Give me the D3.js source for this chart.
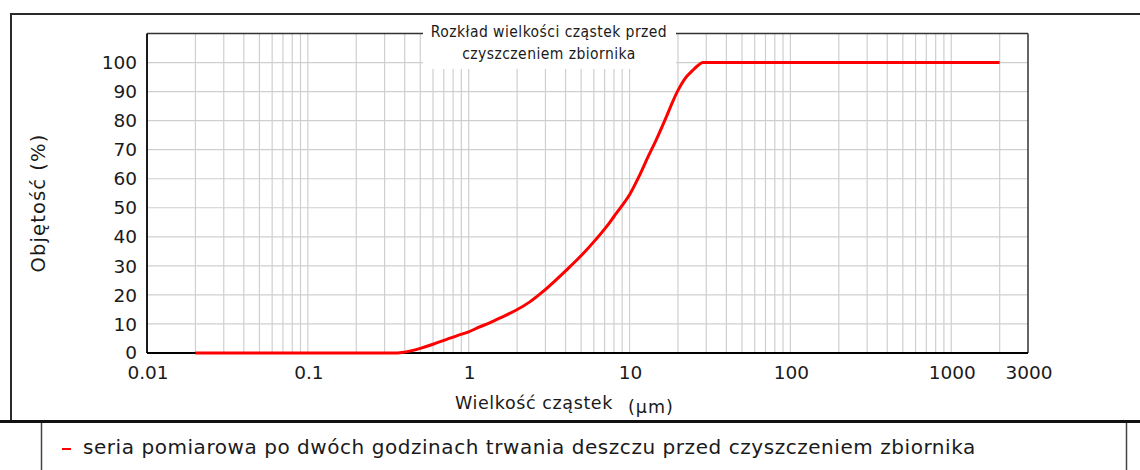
<!DOCTYPE html>
<html>
<head>
<meta charset="utf-8">
<script src="https://cdn.jsdelivr.net/npm/d3@7"></script>
<style>
  body { margin: 0; background: #fff; }
  text { font-family: "DejaVu Sans", sans-serif; fill: #1a1a1a; }
</style>
</head>
<body>
<div id="chart"></div>
<script>
// particle size (um) and cumulative volume (%)
const sizes = [0.02, 0.05, 0.1, 0.2, 0.3, 0.36, 0.4, 0.45, 0.5, 0.6, 0.73, 0.85, 1.0, 1.15, 1.35, 1.6, 1.98, 2.4, 2.89, 3.4, 4.04, 4.7, 5.38, 6.2, 7.17, 8.0, 9.0, 10.0, 11.5, 13.0, 14.6, 16.9, 18.5, 20.0, 22.0, 24.7, 26.5, 28.5, 50, 200, 1000, 2000];
const volumes = [0, 0, 0, 0, 0, 0, 0.3, 0.9, 1.6, 3.0, 4.7, 6.0, 7.3, 8.8, 10.4, 12.3, 14.8, 17.6, 21.1, 24.6, 28.5, 32.0, 35.4, 39.2, 43.4, 47.0, 50.8, 54.5, 61.0, 67.4, 73.2, 81.2, 86.4, 90.4, 94.3, 97.3, 98.9, 100, 100, 100, 100, 100];

const yTicks = [0, 10, 20, 30, 40, 50, 60, 70, 80, 90, 100];
const xTickValues = [0.01, 0.1, 1, 10, 100, 1000, 3000];
const xTickLabels = ['0.01', '0.1', '1', '10', '100', '1000', '3000'];

const titleLines = ['Rozkład wielkości cząstek przed', 'czyszczeniem zbiornika'];
const xTitle = 'Wielkość cząstek';
const xUnit = '(µm)';
const yTitle = 'Objętość (%)';
const seriesName = 'seria pomiarowa po dwóch godzinach trwania deszczu przed czyszczeniem zbiornika';

const width = 1140;
const height = 470;
const plot = { left: 147, right: 1028, top: 33.5, bottom: 353 };

const svg = d3.select('#chart')
    .append('svg')
    .attr('width', width)
    .attr('height', height);

const x = d3.scaleLog()
    .domain([0.01, 3000])
    .range([plot.left, plot.right]);

const y = d3.scaleLinear()
    .domain([0, 110])
    .range([plot.bottom, plot.top]);

// outer frame and legend frame
svg.append('rect')
    .attr('x', 11).attr('y', 14)
    .attr('width', 1160).attr('height', 407)
    .attr('fill', 'none').attr('stroke', '#2a2a2a').attr('stroke-width', 2);

svg.append('rect')
    .attr('x', 41.5).attr('y', 421.5)
    .attr('width', 1085).attr('height', 100)
    .attr('fill', 'none').attr('stroke', '#444').attr('stroke-width', 1.5);

svg.append('line')
    .attr('x1', 0).attr('x2', width)
    .attr('y1', 421.5).attr('y2', 421.5)
    .attr('stroke', '#111').attr('stroke-width', 3);

// grid
const grid = svg.append('g').attr('stroke', '#cfcfcf').attr('stroke-width', 1.2);

grid.selectAll('.vgrid')
    .data(x.ticks().filter(d => d > 0.0101 && d < 2999))
    .enter()
    .append('line')
    .attr('class', 'vgrid')
    .attr('x1', d => x(d)).attr('x2', d => x(d))
    .attr('y1', plot.top).attr('y2', plot.bottom);

grid.selectAll('.hgrid')
    .data(yTicks.filter(d => d > 0))
    .enter()
    .append('line')
    .attr('class', 'hgrid')
    .attr('x1', plot.left).attr('x2', plot.right)
    .attr('y1', d => y(d)).attr('y2', d => y(d));

// plot frame
svg.append('line')
    .attr('x1', plot.left).attr('x2', plot.right)
    .attr('y1', plot.top).attr('y2', plot.top)
    .attr('stroke', '#333').attr('stroke-width', 1.5);
svg.append('line')
    .attr('x1', plot.right).attr('x2', plot.right)
    .attr('y1', plot.top).attr('y2', plot.bottom)
    .attr('stroke', '#333').attr('stroke-width', 1.5);
svg.append('line')
    .attr('x1', plot.left).attr('x2', plot.left)
    .attr('y1', plot.top).attr('y2', plot.bottom)
    .attr('stroke', '#000').attr('stroke-width', 1.8);
svg.append('line')
    .attr('x1', plot.left).attr('x2', plot.right)
    .attr('y1', plot.bottom).attr('y2', plot.bottom)
    .attr('stroke', '#000').attr('stroke-width', 1.8);

// title box covers the grid
svg.append('rect')
    .attr('x', 423).attr('y', 31)
    .attr('width', 253).attr('height', 38)
    .attr('fill', '#fff');

svg.selectAll('.title')
    .data(titleLines)
    .enter()
    .append('text')
    .attr('class', 'title')
    .attr('x', 549)
    .attr('y', (d, i) => 37 + i * 22)
    .attr('text-anchor', 'middle')
    .style('font-family', '"DejaVu Sans Condensed", "DejaVu Sans", sans-serif')
    .style('font-size', '15.5px')
    .style('letter-spacing', '0.45px')
    .text(d => d);

// series
const line = d3.line()
    .x(d => x(d[0]))
    .y(d => y(d[1]))
    .curve(d3.curveMonotoneX);

svg.append('path')
    .datum(d3.zip(sizes, volumes))
    .attr('fill', 'none')
    .attr('stroke', '#ff0000')
    .attr('stroke-width', 3)
    .attr('d', line);

// y tick labels
svg.selectAll('.ylab')
    .data(yTicks)
    .enter()
    .append('text')
    .attr('class', 'ylab')
    .attr('x', 137)
    .attr('y', d => y(d))
    .attr('dy', d => d === 0 ? '0.3em' : '0.36em')
    .attr('text-anchor', 'end')
    .style('font-size', '18.5px')
    .text(d => d);

// x tick labels
svg.selectAll('.xlab')
    .data(xTickValues)
    .enter()
    .append('text')
    .attr('class', 'xlab')
    .attr('x', d => x(d) + 1)
    .attr('y', 379)
    .attr('text-anchor', 'middle')
    .style('font-size', '18.5px')
    .text((d, i) => xTickLabels[i]);

// axis titles
svg.append('text')
    .attr('x', 455)
    .attr('y', 409)
    .style('font-size', '17.5px')
    .style('letter-spacing', '0.6px')
    .text(xTitle);

svg.append('text')
    .attr('x', 628)
    .attr('y', 413)
    .style('font-size', '17.5px')
    .style('letter-spacing', '1px')
    .text(xUnit);

svg.append('text')
    .attr('transform', 'translate(45,203) rotate(-90)')
    .attr('text-anchor', 'middle')
    .style('font-size', '19.5px')
    .style('letter-spacing', '1.1px')
    .text(yTitle);

// legend
svg.append('line')
    .attr('x1', 62).attr('x2', 71)
    .attr('y1', 449).attr('y2', 449)
    .attr('stroke', '#ff0000').attr('stroke-width', 2);

svg.append('text')
    .attr('x', 83)
    .attr('y', 454)
    .style('font-size', '20px')
    .style('letter-spacing', '0.55px')
    .text(seriesName);
</script>
</body>
</html>
